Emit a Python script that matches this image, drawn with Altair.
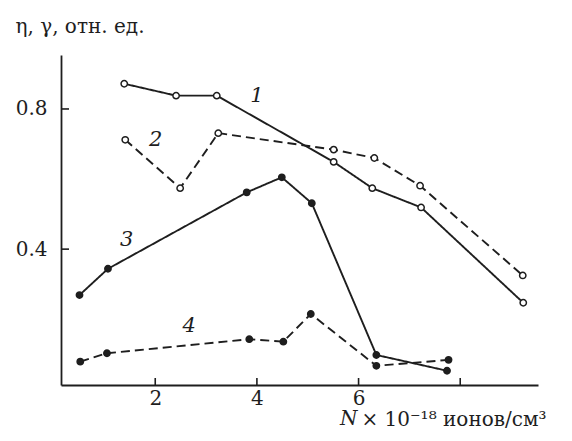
import altair as alt
import pandas as pd

# Curve data
x1 = [1.39, 2.41, 3.21, 5.51, 6.27, 7.23, 9.24]
y1 = [0.872, 0.838, 0.838, 0.649, 0.574, 0.519, 0.247]
x2 = [1.41, 2.49, 3.24, 5.51, 6.31, 7.21, 9.23]
y2 = [0.712, 0.574, 0.731, 0.684, 0.660, 0.581, 0.325]
x3 = [0.51, 1.07, 3.80, 4.49, 5.08, 6.35, 7.74]
y3 = [0.269, 0.344, 0.562, 0.605, 0.531, 0.098, 0.053]
x4 = [0.525, 1.05, 3.85, 4.52, 5.06, 6.35, 7.77]
y4 = [0.079, 0.103, 0.143, 0.136, 0.215, 0.067, 0.084]

series_names = ["1", "2", "3", "4"]
label_x = [4.0, 2.01, 1.44, 2.67]
label_y = [0.836, 0.712, 0.427, 0.182]

x_tick_values = [2, 4, 6, 8]
x_label_values = [2, 4, 6]
y_tick_values = [0.4, 0.8]

y_title = "η, γ, отн. ед."
x_title_italic = "N"
x_title_rest = "× 10⁻¹⁸ ионов/см³"

INK = "#1e1e1e"
FONT = "DejaVu Serif"
W, H = 477, 330

rows = []
for name, xs, ys in zip(series_names, [x1, x2, x3, x4], [y1, y2, y3, y4]):
    for xv, yv in zip(xs, ys):
        rows.append({"series": name, "x": xv, "y": yv})
df = pd.DataFrame(rows)
labels = pd.DataFrame({"series": series_names, "x": label_x, "y": label_y})
xt = pd.DataFrame({"v": x_tick_values})
yt = pd.DataFrame({"v": y_tick_values})

xscale = alt.Scale(domain=[0.146, 9.53], nice=False, zero=False)
yscale = alt.Scale(domain=[0.0123, 0.954], nice=False, zero=False)

xaxis = alt.Axis(values=x_label_values, format="d", ticks=False, tickSize=0, grid=False,
                 domainColor=INK, domainWidth=1.8, labelFont=FONT, labelFontSize=20,
                 labelColor=INK, labelPadding=3, title=x_title_rest, titleFont=FONT,
                 titleFontSize=20, titleFontWeight="normal", titleColor=INK,
                 titleAlign="left", titleAnchor="start", titleBaseline="alphabetic",
                 titleX=300, titleY=40)
yaxis = alt.Axis(values=y_tick_values, format=".1f", ticks=False, tickSize=0, grid=False,
                 domainColor=INK, domainWidth=1.8, labelFont=FONT, labelFontSize=20,
                 labelColor=INK, labelPadding=14, title=y_title, titleFont=FONT,
                 titleFontSize=20, titleFontWeight="normal", titleColor=INK,
                 titleAngle=0, titleAlign="left", titleAnchor="start",
                 titleBaseline="alphabetic", titleX=-46, titleY=-23)

X = alt.X("x:Q", scale=xscale, axis=xaxis)
Y = alt.Y("y:Q", scale=yscale, axis=yaxis)

dash = alt.StrokeDash("series:N", scale=alt.Scale(domain=series_names,
                      range=[[1, 0], [9, 5], [1, 0], [9, 5]]), legend=None)
fill = alt.Fill("series:N", scale=alt.Scale(domain=series_names,
                range=["white", "white", INK, INK]), legend=None)

lines = alt.Chart(df).mark_line(color=INK, strokeWidth=1.9).encode(
    x=X, y=Y, detail="series:N", strokeDash=dash)
points = alt.Chart(df).mark_point(shape="circle", filled=True, stroke=INK,
                                  strokeWidth=1.5, size=40, opacity=1).encode(
    x=alt.X("x:Q", scale=xscale), y=alt.Y("y:Q", scale=yscale), fill=fill)
texts = alt.Chart(labels).mark_text(font=FONT, fontStyle="italic", fontSize=21,
                                    color=INK, align="center", baseline="middle").encode(
    x=alt.X("x:Q", scale=xscale), y=alt.Y("y:Q", scale=yscale), text="series:N")
xticks = alt.Chart(xt).mark_rule(color=INK, strokeWidth=1.6).encode(
    x=alt.X("v:Q", scale=xscale), y=alt.value(H), y2=alt.value(H - 7))
yticks = alt.Chart(yt).mark_rule(color=INK, strokeWidth=1.6).encode(
    y=alt.Y("v:Q", scale=yscale), x=alt.value(0), x2=alt.value(8))
ntext = alt.Chart(labels).transform_filter(alt.datum.series == "1").mark_text(
    font=FONT, fontStyle="italic", fontSize=20, color=INK, align="left",
    baseline="alphabetic").encode(x=alt.value(279), y=alt.value(H + 40),
                                  text=alt.value(x_title_italic))

chart = alt.layer(lines, points, texts, xticks, yticks, ntext).properties(
    width=W, height=H,
    autosize=alt.AutoSizeParams(type="none"),
    padding={"left": 53, "top": 47, "right": 26, "bottom": 48},
    background="white",
).configure_view(stroke=None)

chart.save("out.html", embed_options={"renderer": "svg", "actions": False})
